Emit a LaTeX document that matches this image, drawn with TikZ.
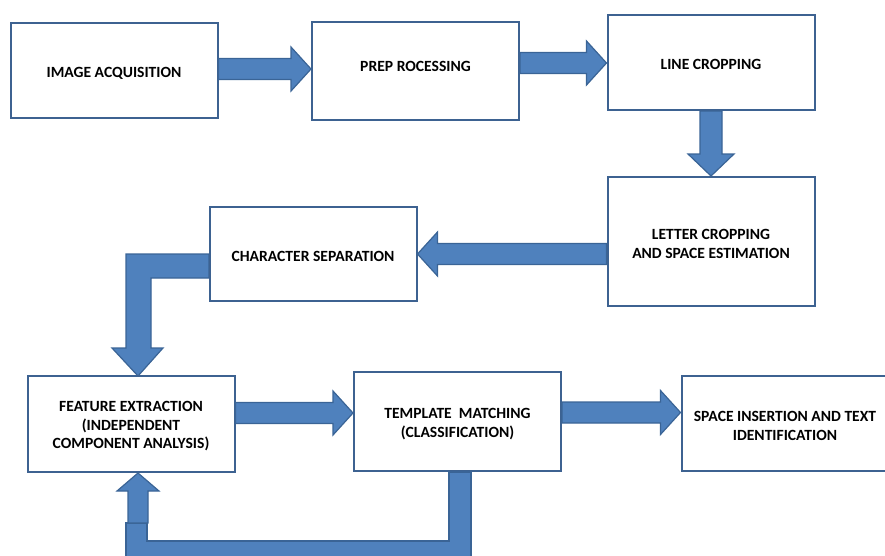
\documentclass[tikz,border=0pt]{standalone}
\usepackage{fontspec}
\setmainfont{Carlito}[BoldFont={Carlito Bold}]
\usetikzlibrary{calc}
\definecolor{arrowfill}{HTML}{4F81BD}
\definecolor{arrowline}{HTML}{3A6496}
\definecolor{boxline}{HTML}{3D6291}
% invisible strut that lowers the text block a little inside its box
\newcommand\toppad{\rule{0pt}{15pt}}
\tikzset{
  stage/.style={draw=boxline, line width=2pt, fill=white, minimum width=207pt,
    align=center, inner sep=0pt, font=\fontsize{15.6}{18.5}\selectfont\bfseries},
  blk/.style={fill=arrowfill, draw=arrowline, line width=1.2pt, line join=miter},
}
% block arrow pointing right/left between two points on one horizontal line
\newcommand\harrow[2]{%
  \draw[blk] let \p1=(#1), \p2=(#2), \n1={ifthenelse(\x2>\x1,1,-1)} in
    (\x1,\y1+10.5pt) -- (\x2-\n1*20pt,\y1+10.5pt) -- (\x2-\n1*20pt,\y1+22pt)
    -- (\x2,\y1) -- (\x2-\n1*20pt,\y1-22pt) -- (\x2-\n1*20pt,\y1-10.5pt)
    -- (\x1,\y1-10.5pt) -- cycle;}
\begin{document}
\begin{tikzpicture}[x=1pt,y=-1pt]
\useasboundingbox (0,0) rectangle (885,555);

% elbow connector behind the character separation box
\draw[blk] (209,254) -- (126,254) -- (126,348) -- (112,348) -- (138,376)
  -- (163,348) -- (151,348) -- (151,278) -- (209,278) -- cycle;

% stages
\node[stage, minimum height=95pt] (a1) at (114,70.5) {\toppad IMAGE ACQUISITION};
\node[stage, minimum height=98pt, text depth=14pt] (a2) at (415.5,71) {\toppad PREP ROCESSING};
\node[stage, minimum height=95pt] (a3) at (711,62.5) {\toppad LINE CROPPING};
\node[stage, minimum height=129pt] (a4) at (711,241.5) {\toppad LETTER CROPPING\\AND SPACE ESTIMATION};
\node[stage, minimum height=94pt] (a5) at (313,254) {\toppad CHARACTER SEPARATION};
\node[stage, minimum height=96pt] (a6) at (131,424) {\toppad FEATURE EXTRACTION\\(INDEPENDENT\\COMPONENT ANALYSIS)};
\node[stage, minimum height=99pt] (a7) at (457.5,421.5) {\toppad TEMPLATE~~MATCHING\\(CLASSIFICATION)};
\node[stage, minimum height=95pt] (a8) at (785,423.5) {\toppad SPACE INSERTION AND TEXT\\IDENTIFICATION};

% horizontal block arrows
\coordinate (p1) at ($(a1.east)+(0,-1.5)$);
\harrow{p1}{p1 -| a2.west}
\coordinate (p2) at ($(a2.east)+(0,-8)$);
\harrow{p2}{p2 -| a3.west}
\coordinate (p4) at (a4.west |- a5.east);
\harrow{p4}{a5.east}
\coordinate (p6) at ($(a6.east)+(0,-11)$);
\harrow{p6}{p6 -| a7.west}
\coordinate (p7) at ($(a7.east)+(0,-9)$);
\harrow{p7}{p7 -| a8.west}

% downward block arrow
\draw[blk] let \p1=(a3.south), \p2=(a4.north) in
  (\x1-11pt,\y1) -- (\x1-11pt,\y2+22pt) -- (\x1-23pt,\y2+22pt) -- (\x1,\y2)
  -- (\x1+23pt,\y2+22pt) -- (\x1+11pt,\y2+22pt) -- (\x1+11pt,\y1) -- cycle;

% feedback loop below the lower row
\draw[blk] let \p1=(a7.south) in
  (449,\y1) -- (471,\y1) -- (471,570) -- (126,570) -- (126,523) -- (147,523)
  -- (147,541) -- (449,541) -- cycle;
\draw[blk] let \p1=(a6.south) in
  (128,523) -- (128,491) -- (117,491) -- (138,\y1) -- (159,491) -- (148,491)
  -- (148,523) -- cycle;
\end{tikzpicture}
\end{document}
